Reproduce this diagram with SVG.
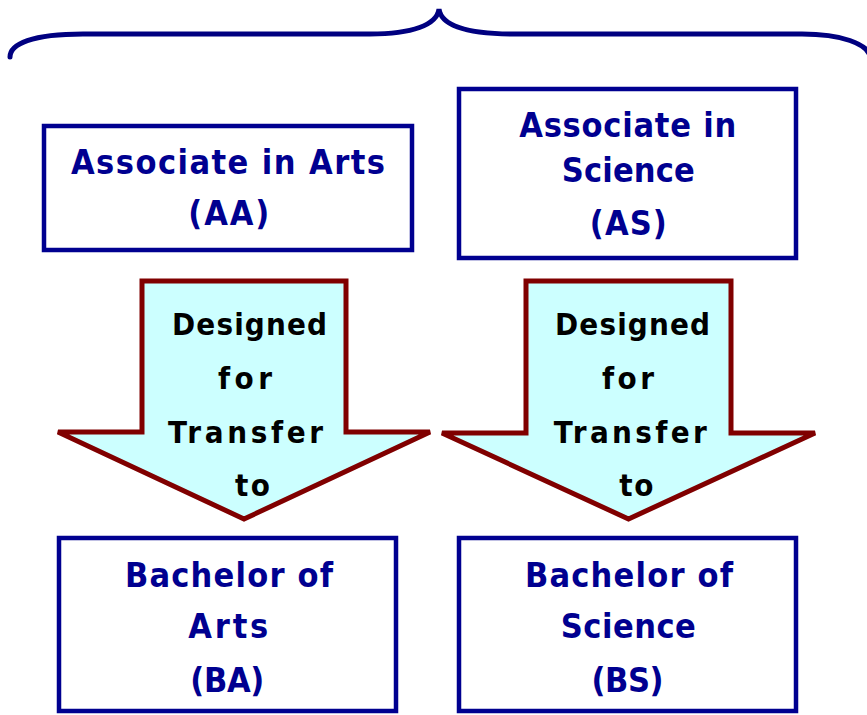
<svg xmlns="http://www.w3.org/2000/svg" width="867" height="715" viewBox="0 0 867 715">
<style>
.box{fill:#fff;stroke:#000090;stroke-width:4.5}
.arr{fill:#ccffff;stroke:#800000;stroke-width:5;stroke-linejoin:miter}
.bt{font-family:"DejaVu Sans Condensed","DejaVu Sans",sans-serif;font-stretch:condensed;font-weight:bold;font-size:34px;fill:#000090;text-anchor:middle}
.at{font-family:"DejaVu Sans Condensed","DejaVu Sans",sans-serif;font-stretch:condensed;font-weight:bold;font-size:31px;fill:#000;text-anchor:middle}
</style>
<rect width="867" height="715" fill="#fff"/>
<path d="M10,57 C10,44 32,34 83,34 L370,34 C412,34 437,25 439,9 C441,25 466,34 514,34 L802,34 C842,34 867,44 870,56" fill="none" stroke="#000080" stroke-width="5" stroke-linecap="round"/>
<g id="connectors">
<g id="arrow1">
<polygon class="arr" points="142,281 346,281 346,432 430,432 244,519 58,432 142,432"/>
<text class="at" x="249.5" y="335" textLength="155" lengthAdjust="spacing">Designed</text>
<text class="at" x="245" y="389" textLength="54" lengthAdjust="spacing">for</text>
<text class="at" x="245.5" y="443" textLength="155" lengthAdjust="spacing">Transfer</text>
<text class="at" x="252.5" y="496" textLength="35" lengthAdjust="spacing">to</text>
</g>
<g id="arrow2">
<polygon class="arr" points="526,281 731,281 731,433 815,433 628.5,519 442,433 526,433"/>
<text class="at" x="632.5" y="335" textLength="155" lengthAdjust="spacing">Designed</text>
<text class="at" x="628" y="389" textLength="52" lengthAdjust="spacing">for</text>
<text class="at" x="630.3" y="443" textLength="153" lengthAdjust="spacing">Transfer</text>
<text class="at" x="636.3" y="496" textLength="34" lengthAdjust="spacing">to</text>
</g>
</g>
<g id="aa">
<rect class="box" x="44" y="126" width="368" height="124"/>
<text class="bt" x="228" y="174" textLength="314" lengthAdjust="spacing">Associate in Arts</text>
<text class="bt" x="228.8" y="225" textLength="81" lengthAdjust="spacing">(AA)</text>
</g>
<g id="as">
<rect class="box" x="459" y="89" width="337" height="169"/>
<text class="bt" x="627.7" y="137" textLength="217" lengthAdjust="spacing">Associate in</text>
<text class="bt" x="628.3" y="182" textLength="133" lengthAdjust="spacing">Science</text>
<text class="bt" x="628.3" y="235" textLength="77" lengthAdjust="spacing">(AS)</text>
</g>
<g id="ba">
<rect class="box" x="59" y="538" width="337" height="173"/>
<text class="bt" x="229" y="587" textLength="208" lengthAdjust="spacing">Bachelor of</text>
<text class="bt" x="228.3" y="638" textLength="80" lengthAdjust="spacing">Arts</text>
<text class="bt" x="227.3" y="692" textLength="74" lengthAdjust="spacing">(BA)</text>
</g>
<g id="bs">
<rect class="box" x="459" y="538" width="337" height="173"/>
<text class="bt" x="629" y="587" textLength="208" lengthAdjust="spacing">Bachelor of</text>
<text class="bt" x="628.3" y="638" textLength="135" lengthAdjust="spacing">Science</text>
<text class="bt" x="627.5" y="692" textLength="72" lengthAdjust="spacing">(BS)</text>
</g>
</svg>
